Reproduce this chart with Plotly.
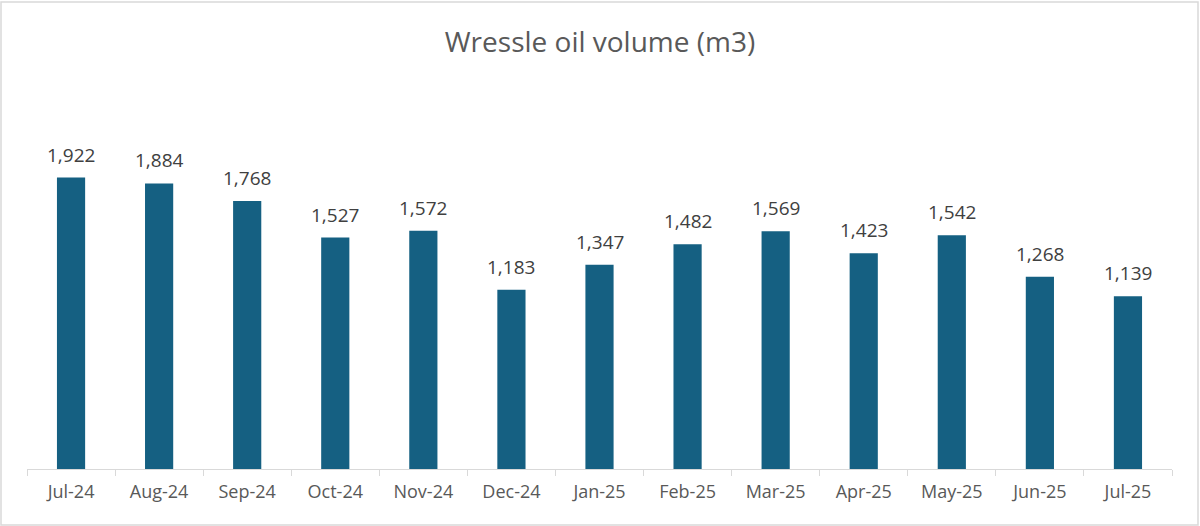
import plotly.graph_objects as go

months = ["Jul-24", "Aug-24", "Sep-24", "Oct-24", "Nov-24", "Dec-24", "Jan-25",
          "Feb-25", "Mar-25", "Apr-25", "May-25", "Jun-25", "Jul-25"]
volumes = [1922, 1884, 1768, 1527, 1572, 1183, 1347, 1482, 1569, 1423, 1542, 1268, 1139]

W, H = 1200, 526
ml, mr, mt, mb = 27, 28, 90, 57

fig = go.Figure(go.Bar(
    x=months, y=volumes,
    marker=dict(color="#156082", line=dict(width=0)),
    width=0.32,
    hoverinfo="skip",
))

for m, v in zip(months, volumes):
    fig.add_annotation(x=m, y=v, text=f"{v:,}", showarrow=False,
                       yanchor="bottom", yshift=8,
                       font=dict(family="Open Sans", size=19, color="#404040"))

pw = W - ml - mr
ph = H - mt - mb
fig.add_shape(type="rect", xref="paper", yref="paper",
              x0=(1 - ml) / pw, x1=(W - 2 - ml) / pw,
              y0=-(mb - 1) / ph, y1=(H - 2 - mb) / ph,
              line=dict(color="#d9d9d9", width=1.5), layer="below")

fig.update_layout(
    width=W, height=H,
    margin=dict(l=ml, r=mr, t=mt, b=mb),
    paper_bgcolor="white", plot_bgcolor="white",
    title=dict(text="Wressle oil volume (m3)", x=0.5, xanchor="center",
               y=1 - 42 / H, yanchor="middle",
               font=dict(family="Open Sans", size=28, color="#595959")),
    showlegend=False,
)
fig.update_xaxes(type="category", tickson="boundaries", ticks="outside", ticklen=6,
                 tickcolor="#d9d9d9", showline=True, linecolor="#d9d9d9", linewidth=1,
                 tickfont=dict(family="Open Sans", size=18, color="#595959"),
                 ticklabelstandoff=6, showgrid=False)
fig.update_yaxes(range=[0, 2500], visible=False, showgrid=False)

fig.write_html("out.html", config={"displayModeBar": False},
               post_script="document.body.style.margin='0';")
